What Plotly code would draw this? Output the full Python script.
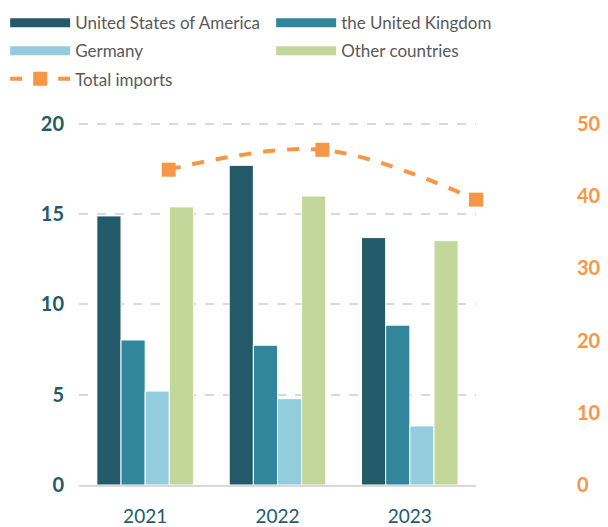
import plotly.graph_objects as go

years = ['2021', '2022', '2023']
usa = [14.9, 17.7, 13.7]
uk = [8.03, 7.74, 8.85]
germany = [5.2, 4.78, 3.27]
other = [15.4, 16.0, 13.53]
total_imports = [43.65, 46.4, 39.5]

# name, values, colour, which legend column
series = [
    ('United States of America', usa, '#235A69', 'legend'),
    ('the United Kingdom', uk, '#31869B', 'legend2'),
    ('Germany', germany, '#93CDDD', 'legend'),
    ('Other countries', other, '#C4D79B', 'legend2'),
]
orange = '#F79646'
font_family = 'Lato, Open Sans, sans-serif'

fig = go.Figure()

for name, vals, col, leg in series:
    fig.add_trace(go.Bar(x=years, y=vals, name=name, marker_color=col,
                         marker_line=dict(color='white', width=1),
                         legendgroup=name, showlegend=False))
    # wide swatch for the legend
    fig.add_trace(go.Scatter(x=[None], y=[None], mode='lines', name=name,
                             line=dict(color=col, width=9), legendgroup=name,
                             legend=leg))

fig.add_trace(go.Scatter(x=years, y=total_imports, name='Total imports',
                         xaxis='x2', yaxis='y2', mode='lines+markers',
                         line=dict(color=orange, width=4, dash='dash', shape='spline'),
                         marker=dict(symbol='square', size=14, color=orange),
                         legendgroup='total', cliponaxis=False))

legend_style = dict(orientation='v', yanchor='top', xanchor='left', y=1.322,
                    font=dict(size=17, color='#595959'), itemwidth=60,
                    tracegroupgap=3, bgcolor='rgba(0,0,0,0)')

fig.update_layout(
    width=608, height=527,
    margin=dict(l=79, r=132, t=122, b=42, autoexpand=False),
    plot_bgcolor='white', paper_bgcolor='white',
    font=dict(family=font_family, color='#595959'),
    barmode='group', bargap=0.27, bargroupgap=0,
    legend=dict(x=-0.186, **legend_style),
    legend2=dict(x=0.484, **legend_style),
    xaxis=dict(showgrid=False, showline=True, linecolor='#D9D9D9', linewidth=2,
               tickfont=dict(size=19, color='#235A69'), ticks='', ticklabelstandoff=13),
    xaxis2=dict(overlaying='x', type='category', range=[-0.584, 2.0], visible=False),
    yaxis=dict(range=[0, 20.1], tickvals=[0, 5, 10, 15, 20], showgrid=True,
               gridcolor='#D9D9D9', griddash='dash', gridwidth=1.5, zeroline=False,
               ticklabelstandoff=14,
               tickfont=dict(size=20, color='#235A69', weight='bold')),
    yaxis2=dict(range=[0, 50.25], tickvals=[0, 10, 20, 30, 40, 50], overlaying='y',
                side='right', showgrid=False, zeroline=False, ticklabelstandoff=100,
                tickfont=dict(size=20, color=orange, weight='bold')),
)

fig.write_html('out.html', config={'displayModeBar': False},
               post_script="document.body.style.margin='0';")
